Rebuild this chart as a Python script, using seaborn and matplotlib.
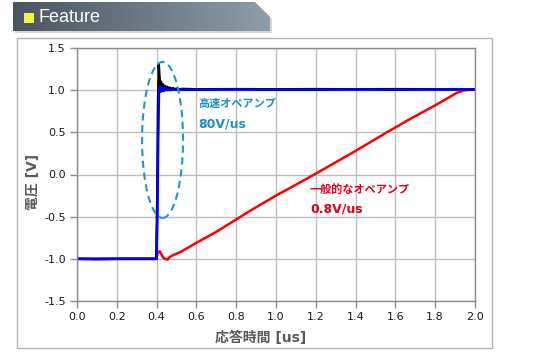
import numpy as np
import pandas as pd
import seaborn as sns
import matplotlib.pyplot as plt
from matplotlib.patches import Ellipse, Polygon, Rectangle
from matplotlib.colors import LinearSegmentedColormap

# step response data (time in us, voltage in V)
t_black = [0.000, 0.100, 0.200, 0.300, 0.398, 0.403, 0.407, 0.411, 0.414, 0.418,
           0.422, 0.427, 0.432, 0.437, 0.442, 0.448, 0.454, 0.460, 0.467, 0.474,
           0.482, 0.490, 0.500, 0.515, 0.530, 0.600, 0.800,
           1.000, 1.200, 1.400, 1.600, 1.800, 2.000]
v_black = [-1.00, -1.00, -1.00, -1.00, -1.00, -0.30, 0.80, 1.30, 1.18, 1.04,
           1.10, 1.02, 1.07, 1.01, 1.05, 1.01, 1.04, 1.01, 1.03, 1.01,
           1.025, 1.01, 1.02, 1.01, 1.015, 1.01, 1.012,
           1.01, 1.012, 1.01, 1.012, 1.01, 1.01]

t_blue = [0.000, 0.100, 0.200, 0.300, 0.400, 0.404, 0.408, 0.412, 0.416, 0.420,
          0.424, 0.428, 0.432, 0.436, 0.440, 0.445, 0.450, 0.456, 0.462, 0.470,
          0.480, 0.500, 0.600, 0.800, 1.000, 1.200, 1.400, 1.600, 1.800, 2.000]
v_blue = [-1.00, -1.005, -1.00, -1.00, -1.00, -0.50, 0.40, 0.98, 1.04, 0.98,
          1.03, 0.99, 1.02, 0.99, 1.02, 1.00, 1.01, 1.00, 1.01, 1.00,
          1.008, 1.005, 1.005, 1.008, 1.005, 1.005, 1.008, 1.005, 1.008, 1.008]

t_red = [0.000, 0.200, 0.398, 0.405, 0.415, 0.425, 0.435, 0.445, 0.455, 0.465,
         0.480, 0.520, 0.600, 0.700, 0.870, 1.000, 1.070, 1.200, 1.400, 1.550,
         1.660, 1.800, 1.910, 1.950, 2.000]
v_red = [-1.00, -1.00, -1.00, -0.93, -0.91, -0.95, -0.99, -1.00, -1.01, -0.98,
         -0.96, -0.92, -0.81, -0.68, -0.43, -0.25, -0.16, 0.01, 0.28, 0.49,
         0.64, 0.82, 0.97, 1.00, 1.01]

x_ticks = [0.0, 0.2, 0.4, 0.6, 0.8, 1.0, 1.2, 1.4, 1.6, 1.8, 2.0]
y_ticks = [-1.5, -1.0, -0.5, 0.0, 0.5, 1.0, 1.5]

sns.set_style("whitegrid")
plt.rcParams['font.family'] = ['DejaVu Sans', 'Noto Sans CJK JP']
plt.rcParams['axes.unicode_minus'] = False

fig = plt.figure(figsize=(5.44, 3.54), dpi=100)

# background layer in pixel coords: header banner + panel frame
bg = fig.add_axes([0, 0, 1, 1], zorder=0)
bg.set_facecolor('none')
hdr = [(13, 2), (255, 2), (270, 17), (270, 31), (13, 31)]
bg.add_patch(Polygon([(x + 2, y + 2) for x, y in hdr], closed=True,
                     fc='#d6d6d6', ec='none', zorder=1))
grad = np.linspace(0, 1, 256).reshape(1, -1)
cmap = LinearSegmentedColormap.from_list('hdr', ['#4a5560', '#8d9da9'])
im = bg.imshow(grad, extent=[13, 270, 31, 2], cmap=cmap, aspect='auto', zorder=2)
clip = Polygon(hdr, closed=True, fc='none', ec='none')
bg.add_patch(clip)
im.set_clip_path(clip)
bg.add_patch(Rectangle((24, 13), 10, 10, fc='#f4f53f', ec='none', zorder=3))
bg.text(39, 17, 'Feature', color='white', fontsize=13, va='center', ha='left',
        family='Liberation Sans', zorder=3)
bg.add_patch(Rectangle((17, 38), 475, 310, fill=False, ec='#b4b4b4', lw=1))
bg.set_xlim(0, 544)
bg.set_ylim(354, 0)
bg.axis('off')

ax = fig.add_axes([77 / 544, 1 - 301 / 354, 398 / 544, 253 / 354], zorder=1)
ax.set_facecolor('white')

sns.lineplot(x=t_red, y=v_red, ax=ax, color='#ff0000', linewidth=1.8,
             estimator=None, sort=False)
sns.lineplot(x=t_black, y=v_black, ax=ax, color='#000000', linewidth=1.8,
             estimator=None, sort=False)
sns.lineplot(x=t_blue, y=v_blue, ax=ax, color='#0000ff', linewidth=1.8,
             estimator=None, sort=False)

ax.set_xlim(0, 2.0)
ax.set_ylim(-1.5, 1.5)
ax.set_xticks(x_ticks)
ax.set_yticks(y_ticks)
ax.set_xticklabels([f'{v:.1f}' for v in x_ticks])
ax.set_yticklabels([f'{v:.1f}' for v in y_ticks])
ax.grid(True, color='#bdbdbd', linewidth=1.0)
for s in ax.spines.values():
    s.set_color('#8c8c8c')
    s.set_linewidth(1.0)
ax.tick_params(axis='both', direction='out', length=5, width=1, color='#8c8c8c',
               labelsize=8, labelcolor='#1a1a1a', left=True, bottom=True, pad=3)

ax.set_xlabel('応答時間 [us]', fontsize=10, fontweight='bold', color='#595959')
ax.xaxis.set_label_coords(0.462, -0.146)
ax.xaxis.label.set_va('center')
ax.set_ylabel('電圧 [V]', fontsize=10, fontweight='bold', color='#595959')
ax.yaxis.set_label_coords(-0.11, 0.47)
ax.yaxis.label.set_va('center')

# highlight of the fast amp step
ax.add_patch(Ellipse((0.43, 0.41), 0.206, 1.85, fill=False, ec='#1f96d0',
                     lw=1.5, ls=(0, (3.5, 2.2)), zorder=5))

blue_txt = '#1a8fcc'
red_txt = '#e0001b'
ax.text(0.608, 0.836, '高速オペアンプ', color=blue_txt, fontsize=8, fontweight='bold',
        va='center', ha='left')
ax.text(0.608, 0.60, '80V/us', color=blue_txt, fontsize=9, fontweight='bold',
        va='center', ha='left')
ax.text(1.171, -0.185, '一般的なオペアンプ', color=red_txt, fontsize=8, fontweight='bold',
        va='center', ha='left')
ax.text(1.171, -0.41, '0.8V/us', color=red_txt, fontsize=9, fontweight='bold',
        va='center', ha='left')

fig.savefig('out.png', dpi=100)
